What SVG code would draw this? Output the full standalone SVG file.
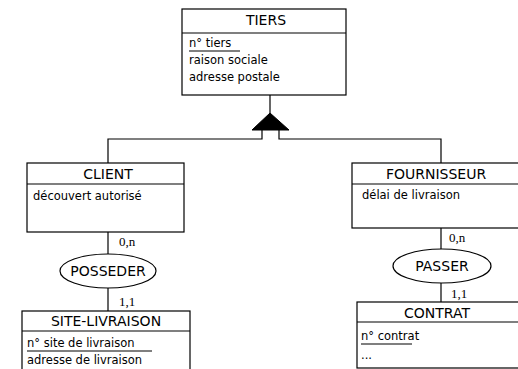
<svg xmlns="http://www.w3.org/2000/svg" width="518" height="369" viewBox="0 0 518 369">
<style>
.box{fill:#fff;stroke:#000;stroke-width:1.2}
.ln{stroke:#000;stroke-width:1.2;fill:none}
.t{font-family:"DejaVu Sans",Verdana,sans-serif;font-size:14px;fill:#000;text-anchor:middle}
.a{font-family:"DejaVu Sans",Verdana,sans-serif;font-size:11.5px;fill:#000}
.c{font-family:"Liberation Serif","Times New Roman",serif;font-size:13px;fill:#000}
</style>
<rect width="518" height="369" fill="#fff"/>
<g id="connectors">
<line class="ln" x1="270" y1="95" x2="270" y2="113"/>
<polygon points="270,113 252,130 289,130" fill="#000" stroke="#000"/>
<polyline class="ln" points="262,130 262,139 108,139 108,163"/>
<polyline class="ln" points="279,130 279,139 441,139 441,163"/>
<line class="ln" x1="108" y1="232" x2="108" y2="254"/>
<line class="ln" x1="108" y1="288" x2="108" y2="311"/>
<line class="ln" x1="441" y1="228" x2="441" y2="249"/>
<line class="ln" x1="441" y1="283" x2="441" y2="302"/>
<text class="c" x="119" y="246">0,n</text>
<text class="c" x="119" y="306">1,1</text>
<text class="c" x="449" y="242">0,n</text>
<text class="c" x="451" y="298">1,1</text>
</g>
<g id="tiers">
<rect class="box" x="182" y="9" width="164" height="86"/>
<line class="ln" x1="182" y1="33" x2="346" y2="33"/>
<text class="t" x="266" y="25">TIERS</text>
<text class="a" x="189" y="47">n° tiers</text>
<line class="ln" x1="189" y1="51" x2="240" y2="51"/>
<text class="a" x="189" y="64">raison sociale</text>
<text class="a" x="189" y="81">adresse postale</text>
</g>
<g id="client">
<rect class="box" x="27" y="163" width="157" height="69"/>
<line class="ln" x1="27" y1="184" x2="184" y2="184"/>
<text class="t" x="108" y="179">CLIENT</text>
<text class="a" x="33" y="200">découvert autorisé</text>
</g>
<g id="fournisseur">
<rect class="box" x="352" y="163" width="175" height="65"/>
<line class="ln" x1="352" y1="184" x2="527" y2="184"/>
<text class="t" x="436" y="179">FOURNISSEUR</text>
<text class="a" x="362" y="199">délai de livraison</text>
</g>
<g id="posseder">
<ellipse class="box" cx="108" cy="271" rx="48" ry="17"/>
<text class="t" x="108" y="276">POSSEDER</text>
</g>
<g id="passer">
<ellipse class="box" cx="442" cy="266" rx="49" ry="17"/>
<text class="t" x="442" y="271">PASSER</text>
</g>
<g id="site-livraison">
<rect class="box" x="22" y="311" width="168" height="70"/>
<line class="ln" x1="22" y1="331" x2="190" y2="331"/>
<text class="t" x="106" y="326">SITE-LIVRAISON</text>
<text class="a" x="27" y="347">n° site de livraison</text>
<line class="ln" x1="27" y1="351" x2="152" y2="351"/>
<text class="a" x="27" y="364">adresse de livraison</text>
</g>
<g id="contrat">
<rect class="box" x="357" y="302" width="170" height="66"/>
<line class="ln" x1="357" y1="322" x2="527" y2="322"/>
<text class="t" x="437" y="318">CONTRAT</text>
<text class="a" x="361" y="340">n° contrat</text>
<line class="ln" x1="361" y1="344" x2="412" y2="344"/>
<text class="a" x="361" y="359">...</text>
</g>
</svg>
